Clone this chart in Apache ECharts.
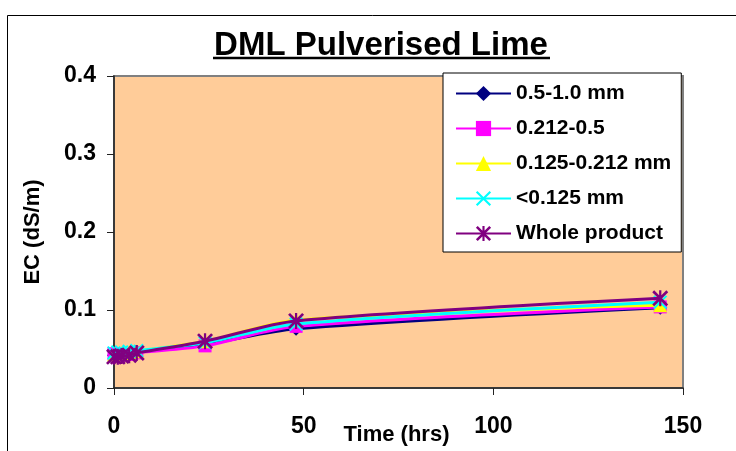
<!DOCTYPE html>
<html>
<head>
<meta charset="utf-8">
<script src="https://cdn.jsdelivr.net/npm/echarts@6/dist/echarts.min.js"></script>
<style>
  html, body { margin: 0; padding: 0; background: #fff; }
  #chart { width: 736px; height: 451px; }
</style>
</head>
<body>
<div id="chart"></div>
<script>
// Sampling times (hours)
const hours = [0, 1, 2, 4, 6, 24, 48, 144];

// EC readings (dS/m) per particle-size fraction
const ecCoarse   = [0.042, 0.041, 0.043, 0.044, 0.046, 0.056, 0.076, 0.103]; // 0.5-1.0 mm
const ecMedium   = [0.044, 0.042, 0.042, 0.043, 0.045, 0.054, 0.079, 0.104]; // 0.212-0.5
const ecFine     = [0.043, 0.044, 0.045, 0.046, 0.047, 0.060, 0.087, 0.106]; // 0.125-0.212 mm
const ecVeryFine = [0.045, 0.046, 0.046, 0.047, 0.048, 0.058, 0.082, 0.110]; // <0.125 mm
const ecWhole    = [0.040, 0.040, 0.041, 0.042, 0.045, 0.060, 0.086, 0.115]; // Whole product

const seriesNames = ['0.5-1.0 mm', '0.212-0.5', '0.125-0.212 mm', '<0.125 mm', 'Whole product'];
const xTicks = [0, 50, 100, 150];
const yTicks = [0, 0.1, 0.2, 0.3, 0.4];

const FONT = '"Liberation Sans", Arial, sans-serif';

// Marker shapes: an "x" cross and an asterisk (cross plus vertical bar)
const crossPath = 'path://M0,2L2,0L20,18L18,20ZM18,0L20,2L2,20L0,18Z';
const starPath = 'path://M0,2.4L2.4,0L20,17.6L17.6,20ZM17.6,0L20,2.4L2.4,20L0,17.6ZM8.6,0L11.4,0L11.4,20L8.6,20Z';

const styles = [
  { color: '#000080', symbol: 'diamond',  size: 14 },
  { color: '#FF00FF', symbol: 'rect',     size: 13 },
  { color: '#FFFF00', symbol: 'triangle', size: 14 },
  { color: '#00FFFF', symbol: crossPath,  size: 14 },
  { color: '#800080', symbol: starPath,   size: 16 }
];
const values = [ecCoarse, ecMedium, ecFine, ecVeryFine, ecWhole];

const series = values.map((vals, i) => ({
  name: seriesNames[i],
  type: 'line',
  smooth: 0.3,
  data: hours.map((h, j) => [h, vals[j]]),
  symbol: styles[i].symbol,
  symbolSize: styles[i].size,
  showAllSymbol: true,
  lineStyle: { color: styles[i].color, width: 3 },
  itemStyle: { color: styles[i].color, borderWidth: 0 },
  emphasis: { disabled: true },
  z: 3 + i
}));

const chart = echarts.init(document.getElementById('chart'), null, { renderer: 'canvas' });
chart.setOption({
  animation: false,
  backgroundColor: '#ffffff',
  grid: {
    left: 114, right: 53, top: 76, bottom: 63,
    outerBoundsMode: 'none',
    containLabel: false,
    show: true,
    backgroundColor: '#FFCC99',
    borderColor: '#808080',
    borderWidth: 2
  },
  xAxis: {
    type: 'value',
    min: xTicks[0], max: xTicks[xTicks.length - 1], interval: 50,
    name: 'Time (hrs)',
    nameLocation: 'middle',
    nameGap: 36,
    nameMoveOverlap: false,
    nameTextStyle: { fontFamily: FONT, fontWeight: 'bold', fontSize: 22, color: '#000', padding: [0, 0, 0, -4] },
    axisLine: { show: true, onZero: false, lineStyle: { color: '#222', width: 1.5 } },
    axisTick: { show: true, length: 7, lineStyle: { color: '#222' } },
    axisLabel: { fontFamily: FONT, fontWeight: 'bold', fontSize: 23, color: '#000', margin: 27 },
    splitLine: { show: false }
  },
  yAxis: {
    type: 'value',
    min: yTicks[0], max: yTicks[yTicks.length - 1], interval: 0.1,
    name: 'EC (dS/m)',
    nameLocation: 'middle',
    nameGap: 70,
    nameMoveOverlap: false,
    nameTextStyle: { fontFamily: FONT, fontWeight: 'bold', fontSize: 22, color: '#000' },
    axisLine: { show: true, lineStyle: { color: '#222', width: 1.5 } },
    axisTick: { show: true, length: 7, lineStyle: { color: '#222' } },
    axisLabel: {
      fontFamily: FONT, fontWeight: 'bold', fontSize: 23, color: '#000', margin: 18,
      formatter: v => (v === 0 ? '0' : v.toFixed(1))
    },
    splitLine: { show: false }
  },
  legend: {
    orient: 'vertical',
    left: 443, top: 73,
    padding: [10, 10, 8, 12],
    backgroundColor: '#ffffff',
    borderColor: '#000',
    borderWidth: 1,
    itemWidth: 55,
    itemHeight: 19,
    itemGap: 14,
    itemTextGap: 5,
    textStyle: { fontFamily: FONT, fontWeight: 'bold', fontSize: 21, color: '#000', lineHeight: 21 },
    data: seriesNames
  },
  graphic: [
    {
      type: 'rect', silent: true, z: 100,
      shape: { x: 7.5, y: 15.5, width: 800, height: 500 },
      style: { fill: 'none', stroke: '#000', lineWidth: 1 }
    },
    {
      type: 'text', silent: true, z: 100,
      x: 381, y: 46,
      style: {
        text: 'DML Pulverised Lime',
        fontFamily: FONT, fontWeight: 'bold', fontSize: 33,
        fill: '#000', align: 'center', verticalAlign: 'middle'
      }
    },
    {
      type: 'line', silent: true, z: 100,
      shape: { x1: 213, y1: 58, x2: 550, y2: 58 },
      style: { stroke: '#000', lineWidth: 2.5 }
    }
  ],
  series: series
});
</script>
</body>
</html>
